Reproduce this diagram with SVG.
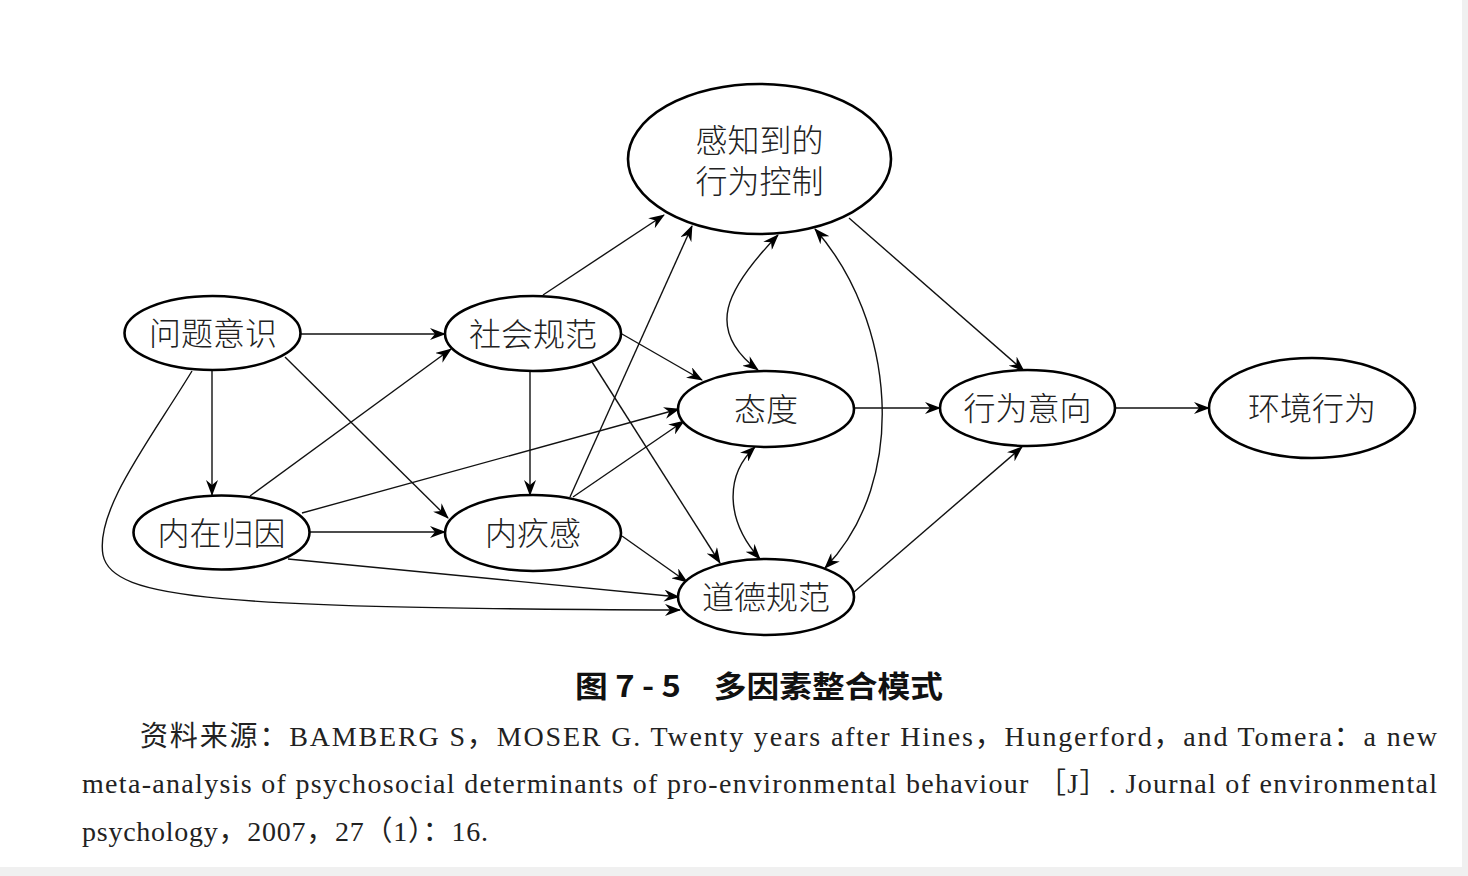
<svg xmlns="http://www.w3.org/2000/svg" width="1468" height="876" viewBox="0 0 1468 876">
<style>
.node ellipse{fill:#fff;stroke:#000;stroke-width:2.6}
.node text{font-family:"Noto Sans CJK SC","Noto Sans",sans-serif;font-size:32px;font-weight:300;fill:#222;text-anchor:middle}
.edges path{fill:none;stroke:#111;stroke-width:1.4}
.cap{font-family:"Noto Sans CJK SC",sans-serif;font-size:30px;font-weight:bold;fill:#111}
.src{font-family:"Liberation Serif","Noto Sans CJK SC",serif;font-size:28px;fill:#222}
</style>
<defs>
<marker id="ah" viewBox="0 0 16 12" refX="15" refY="6" markerWidth="16" markerHeight="12" markerUnits="userSpaceOnUse" orient="auto-start-reverse">
<path d="M0,0 L16,6 L0,12 L5,6 z" fill="#000"/>
</marker>
</defs>
<rect x="0" y="0" width="1468" height="876" fill="#fff"/>
<rect x="1462" y="0" width="6" height="876" fill="#f0f0f0"/>
<rect x="0" y="867" width="1468" height="9" fill="#f0f0f0"/>

<g class="edges">
<path d="M301,334 L445,334" marker-end="url(#ah)"/>
<path d="M212,370 L212,495" marker-end="url(#ah)"/>
<path d="M285,357 L448,518" marker-end="url(#ah)"/>
<path d="M192,371 C150,440 95,510 103,555 C112,600 220,608 680,610" marker-end="url(#ah)"/>
<path d="M250,496 L451,349" marker-end="url(#ah)"/>
<path d="M310,532 L445,532" marker-end="url(#ah)"/>
<path d="M302,513 L679,409" marker-end="url(#ah)"/>
<path d="M288,559 L679,597" marker-end="url(#ah)"/>
<path d="M543,295 L664,215" marker-end="url(#ah)"/>
<path d="M530,371 L530,495" marker-end="url(#ah)"/>
<path d="M622,334 L702,380" marker-end="url(#ah)"/>
<path d="M592,362 L720,563" marker-end="url(#ah)"/>
<path d="M570,497 L692,226" marker-end="url(#ah)"/>
<path d="M573,497 L684,421" marker-end="url(#ah)"/>
<path d="M622,536 L687,582" marker-end="url(#ah)"/>
<path d="M758,370 C705,330 725,290 778,235" marker-start="url(#ah)" marker-end="url(#ah)"/>
<path d="M755,447 C725,475 725,520 760,559" marker-start="url(#ah)" marker-end="url(#ah)"/>
<path d="M815,229 C895,320 910,480 825,568" marker-start="url(#ah)" marker-end="url(#ah)"/>
<path d="M849,218 L1024,371" marker-end="url(#ah)"/>
<path d="M854,408 L940,408" marker-end="url(#ah)"/>
<path d="M854,592 L1022,447" marker-end="url(#ah)"/>
<path d="M1116,408 L1209,408" marker-end="url(#ah)"/>
</g>

<g id="pbc" class="node"><ellipse cx="759.5" cy="159" rx="131.5" ry="75"/><text x="759.5" y="152">感知到的<tspan x="759.5" y="193">行为控制</tspan></text></g>
<g id="awareness" class="node"><ellipse cx="212.5" cy="333" rx="88" ry="37"/><text x="213" y="345">问题意识</text></g>
<g id="attribution" class="node"><ellipse cx="221.5" cy="532.5" rx="88" ry="37"/><text x="221.5" y="545">内在归因</text></g>
<g id="social" class="node"><ellipse cx="533" cy="333.5" rx="88" ry="37.5"/><text x="533" y="346">社会规范</text></g>
<g id="guilt" class="node"><ellipse cx="533" cy="533" rx="88" ry="38"/><text x="533" y="545">内疚感</text></g>
<g id="attitude" class="node"><ellipse cx="766" cy="409" rx="88" ry="38"/><text x="766" y="421">态度</text></g>
<g id="moral" class="node"><ellipse cx="766" cy="597" rx="88" ry="38"/><text x="766" y="609">道德规范</text></g>
<g id="intention" class="node"><ellipse cx="1027.5" cy="408" rx="87.5" ry="38"/><text x="1027.5" y="420">行为意向</text></g>
<g id="behavior" class="node"><ellipse cx="1312" cy="408" rx="103" ry="50"/><text x="1312" y="420">环境行为</text></g>

<text class="cap" x="575" y="697" textLength="368" lengthAdjust="spacingAndGlyphs">图 7 - 5　多因素整合模式</text>
<text class="src" x="140" y="746" textLength="1297" lengthAdjust="spacing">资料来源：BAMBERG S，MOSER G. Twenty years after Hines，Hungerford，and Tomera：a new</text>
<text class="src" x="82" y="793" textLength="1355" lengthAdjust="spacing">meta-analysis of psychosocial determinants of pro-environmental behaviour ［J］. Journal of environmental</text>
<text class="src" x="82" y="841" textLength="406" lengthAdjust="spacing">psychology，2007，27（1）：16.</text>
</svg>
